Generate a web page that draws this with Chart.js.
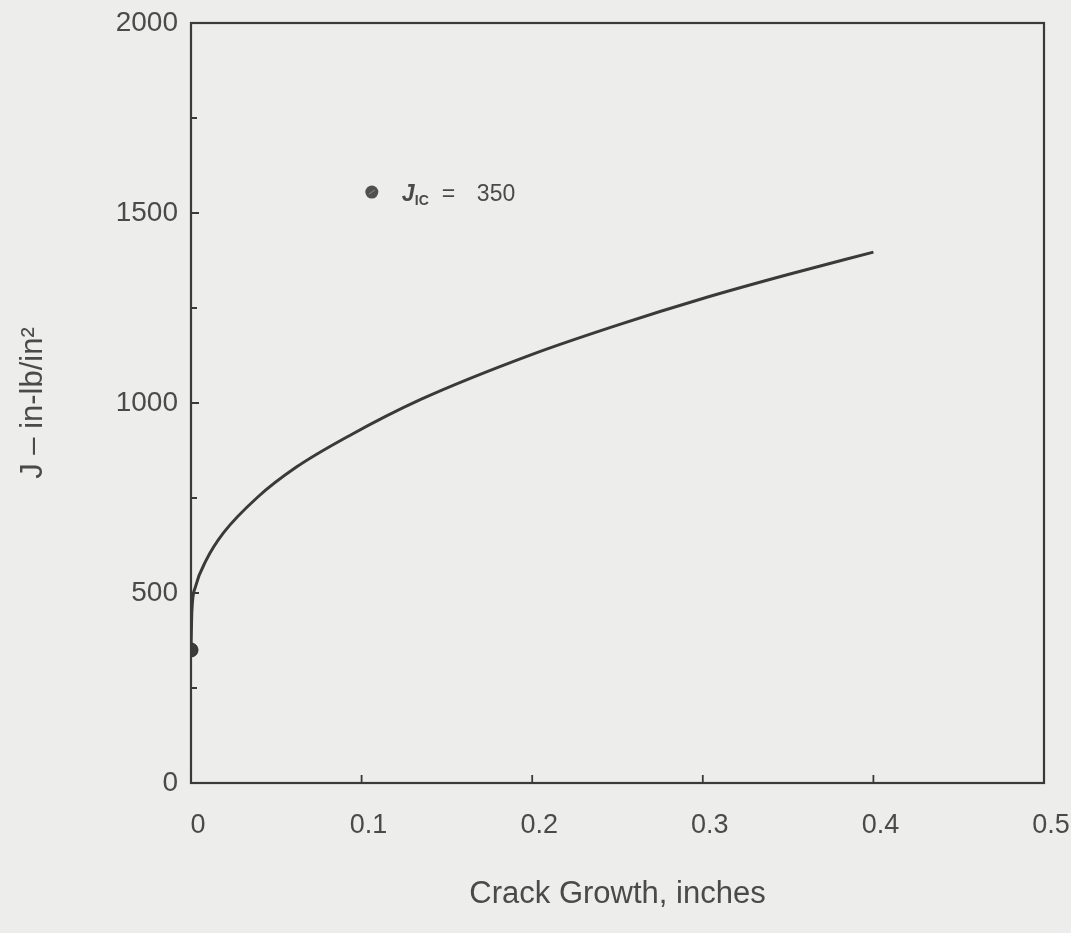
<!DOCTYPE html>
<html>
<head>
<meta charset="utf-8">
<script src="https://cdn.jsdelivr.net/npm/chart.js@4.4.1/dist/chart.umd.min.js"></script>
<style>
  html, body { margin: 0; padding: 0; background: #ededeb; }
  #wrap { width: 1071px; height: 933px; position: relative; }
</style>
</head>
<body>
<div id="wrap"><canvas id="c"></canvas></div>
<script>
// J-R resistance curve: J versus crack growth
const crackGrowth = [0, 0.0005, 0.0025, 0.009, 0.019, 0.039, 0.062, 0.092, 0.135, 0.2, 0.25, 0.3, 0.35, 0.4];
const jValues     = [350, 450, 515, 587, 658, 752, 832, 912, 1010, 1128, 1205, 1275, 1338, 1397];

// Initiation toughness point
const jIcX = [0];
const jIcY = [350];
const jIcLabel = '350';

// Axis ticks
const xTicks = [0, 0.1, 0.2, 0.3, 0.4, 0.5];
const yTicks = [0, 500, 1000, 1500, 2000];
const yMinorTicks = [250, 750, 1250, 1750];

// Key location in data units
const keyAt = { x: 0.106, y: 1555 };

const INK = '#3a3a3a';
const TEXT = '#4a4a4a';
const FONT = '"Liberation Sans", Arial, Helvetica, sans-serif';

const curveData = crackGrowth.map((x, i) => ({ x, y: jValues[i] }));
const jIcData = jIcX.map((x, i) => ({ x, y: jIcY[i] }));

// Frame, inward tick marks and the key
const framePlugin = {
  id: 'frame',
  afterDraw(chart) {
    const { ctx, chartArea: a, scales: { x, y } } = chart;
    ctx.save();
    ctx.strokeStyle = INK;
    ctx.lineWidth = 2.2;
    ctx.strokeRect(a.left, a.top, a.right - a.left, a.bottom - a.top);
    ctx.lineWidth = 1.8;
    ctx.beginPath();
    xTicks.forEach(v => {
      const px = x.getPixelForValue(v);
      ctx.moveTo(px, a.bottom);
      ctx.lineTo(px, a.bottom - 8);
    });
    yTicks.forEach(v => {
      const py = y.getPixelForValue(v);
      ctx.moveTo(a.left, py);
      ctx.lineTo(a.left + 8, py);
    });
    yMinorTicks.forEach(v => {
      const py = y.getPixelForValue(v);
      ctx.moveTo(a.left, py);
      ctx.lineTo(a.left + 6, py);
    });
    ctx.stroke();

    // key: marker + "J_IC = 350"
    const kx = x.getPixelForValue(keyAt.x);
    const ky = y.getPixelForValue(keyAt.y);
    ctx.fillStyle = '#505050';
    ctx.beginPath();
    ctx.arc(kx, ky, 6.5, 0, Math.PI * 2);
    ctx.fill();
    ctx.strokeStyle = '#8a8a8a';
    ctx.lineWidth = 1;
    ctx.beginPath();
    ctx.moveTo(kx - 3, ky + 2); ctx.lineTo(kx + 3, ky - 2);
    ctx.stroke();

    ctx.fillStyle = TEXT;
    ctx.textBaseline = 'alphabetic';
    const base = ky + 9;
    ctx.font = 'bold italic 23px ' + FONT;
    ctx.fillText('J', kx + 30, base);
    ctx.font = 'bold 14px ' + FONT;
    ctx.fillText('IC', kx + 43, base + 4);
    ctx.font = '23px ' + FONT;
    ctx.fillText('=', kx + 70, base);
    ctx.fillText(jIcLabel, kx + 105, base);
    ctx.restore();
  }
};

new Chart(document.getElementById('c'), {
  type: 'scatter',
  data: {
    datasets: [
      {
        label: 'J-R curve',
        data: curveData,
        showLine: true,
        borderColor: INK,
        borderWidth: 3,
        pointRadius: 0,
        cubicInterpolationMode: 'monotone',
        fill: false,
        order: 2
      },
      {
        label: 'JIc',
        data: jIcData,
        pointRadius: 7,
        pointBackgroundColor: '#3c3c3c',
        pointBorderColor: '#2a2a2a',
        pointBorderWidth: 1,
        order: 1
      }
    ]
  },
  options: {
    responsive: true,
    maintainAspectRatio: false,
    animation: false,
    layout: { padding: { left: 0, top: 23, right: 27, bottom: 0 } },
    plugins: {
      legend: { display: false },
      tooltip: { enabled: false }
    },
    scales: {
      x: {
        type: 'linear',
        min: 0,
        max: 0.5,
        afterFit(s) { s.height = 150; s.paddingLeft = 0; s.paddingRight = 0; },
        afterBuildTicks(s) { s.ticks = xTicks.map(v => ({ value: v })); },
        grid: { display: false, drawTicks: false },
        border: { display: false },
        ticks: {
          padding: 26,
          labelOffset: 7,
          color: TEXT,
          font: { family: FONT, size: 27 },
          callback: v => (v === 0 ? '0' : v.toFixed(1))
        },
        title: {
          display: true,
          text: 'Crack Growth, inches',
          color: TEXT,
          font: { family: FONT, size: 31 },
          padding: { top: 0, bottom: 20 }
        }
      },
      y: {
        type: 'linear',
        min: 0,
        max: 2000,
        afterFit(s) { s.width = 191; s.paddingTop = 0; s.paddingBottom = 0; },
        afterBuildTicks(s) { s.ticks = yTicks.map(v => ({ value: v })); },
        grid: { display: false, drawTicks: false },
        border: { display: false },
        ticks: {
          padding: 13,
          color: TEXT,
          font: { family: FONT, size: 28 },
          callback: v => String(v)
        },
        title: {
          display: true,
          text: 'J – in-lb/in²',
          color: TEXT,
          font: { family: FONT, size: 31 },
          padding: { top: 15, bottom: 0 }
        }
      }
    }
  },
  plugins: [framePlugin]
});
</script>
</body>
</html>
